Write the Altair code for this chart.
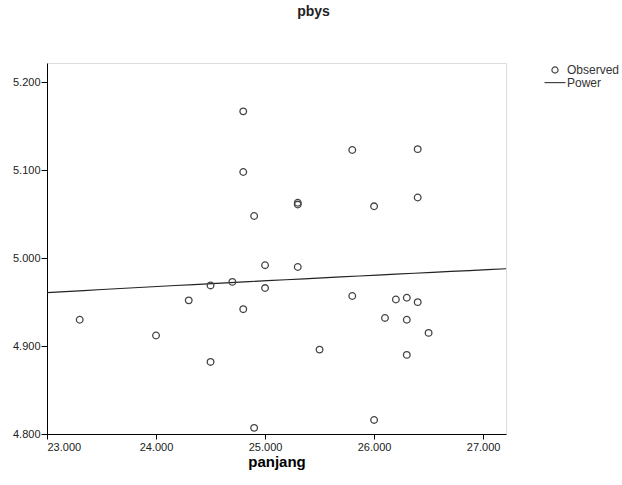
import altair as alt
import pandas as pd

panjang = [23.3, 24.0, 24.3, 24.5, 24.5, 24.7, 24.8, 24.9, 25.0, 25.0,
           25.3, 25.5, 24.8, 24.8, 24.9, 25.3, 25.3, 25.8, 26.4, 26.0,
           26.4, 25.8, 26.2, 26.3, 26.4, 26.1, 26.3, 26.5, 26.3, 26.0]
pbys = [4.930, 4.912, 4.952, 4.882, 4.969, 4.973, 4.942, 4.807, 4.992, 4.966,
        4.990, 4.896, 5.167, 5.098, 5.048, 5.063, 5.061, 5.123, 5.124, 5.059,
        5.069, 4.957, 4.953, 4.955, 4.950, 4.932, 4.930, 4.915, 4.890, 4.816]
series_names = ["Observed", "Power"]
x_ticks = [23, 24, 25, 26, 27]
y_ticks = [4.8, 4.9, 5.0, 5.1, 5.2]

df = pd.DataFrame({"panjang": panjang, "pbys": pbys, "series": series_names[0]})

FONT = "Liberation Sans"

xscale = alt.Scale(domain=[23, 27.21], nice=False, zero=False)
yscale = alt.Scale(domain=[4.8, 5.222], nice=False, zero=False)

xaxis = alt.Axis(values=x_ticks, format=".3f", title="panjang", grid=False,
                 titleFontSize=15, titleFontWeight="bold", titleFont=FONT,
                 titleColor="#000", titlePadding=2,
                 labelFont=FONT, labelFontSize=11, labelColor="#222",
                 tickSize=5, labelPadding=2, domainColor="#000", tickColor="#000")
yaxis = alt.Axis(values=y_ticks, format=".3f", title=None, grid=False,
                 labelFont=FONT, labelFontSize=11, labelColor="#222",
                 tickSize=6, labelPadding=1, domainColor="#000", tickColor="#000")

points = alt.Chart(df).mark_point(filled=False, size=44, strokeWidth=1.3,
                                  color="#444", opacity=1).encode(
    x=alt.X("panjang:Q", scale=xscale, axis=xaxis),
    y=alt.Y("pbys:Q", scale=yscale, axis=yaxis),
    shape=alt.Shape("series:N",
                    scale=alt.Scale(domain=series_names,
                                    range=["circle", "M-3.4,0H3.4"]),
                    legend=alt.Legend(title=None, orient="none",
                                      legendX=502, legendY=1,
                                      labelFont=FONT, labelFontSize=12,
                                      labelColor="#333", labelOffset=6,
                                      symbolSize=38, symbolStrokeColor="#444",
                                      symbolFillColor="transparent",
                                      symbolStrokeWidth=1.2, rowPadding=0.6,
                                      padding=0)),
)

fit = alt.Chart(df).transform_regression(
    "panjang", "pbys", method="pow", extent=[23, 27.21]
).mark_line(color="#222", strokeWidth=1.2, clip=True).encode(
    x=alt.X("panjang:Q", scale=xscale),
    y=alt.Y("pbys:Q", scale=yscale),
)

chart = alt.layer(fit, points).properties(
    width=459, height=371,
    title=alt.TitleParams(text="pbys", font=FONT, fontSize=14, fontWeight="bold",
                          color="#222", anchor="middle", dx=37, offset=44),
    autosize=alt.AutoSizeParams(type="none"),
    padding={"left": 47, "top": 63, "right": 116, "bottom": 51},
).configure_view(
    fill="#f0f0f0", stroke="#333", strokeWidth=1
).configure(background="white")

chart.save("out.html", embed_options={"renderer": "svg", "actions": False})
